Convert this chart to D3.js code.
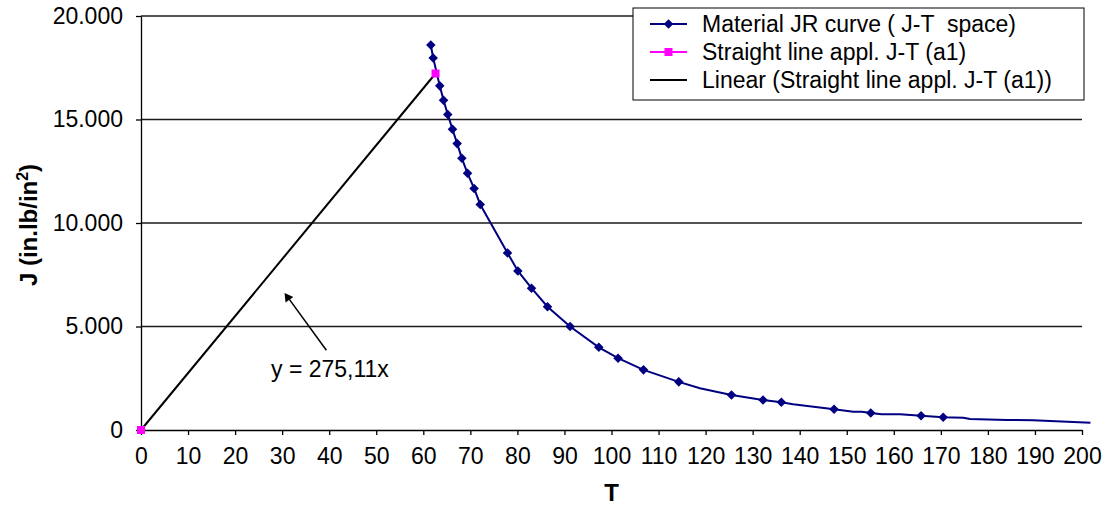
<!DOCTYPE html>
<html>
<head>
<meta charset="utf-8">
<script src="https://cdn.jsdelivr.net/npm/d3@7"></script>
<style>
  body { margin: 0; background: #fff; }
  text { font-family: Arial, "Liberation Sans", sans-serif; }
</style>
</head>
<body>
<div id="chart-area"></div>
<script>
const width = 1108;
const height = 508;

// Material JR curve in J-T space (line through every point, marker only where jrMarked = 1)
const jrT = [61.6, 62.1, 63.5, 64.3, 65.2, 66.2, 67.2, 68.2, 69.4, 70.8, 72.1, 77.9, 80.1, 83.0, 86.4,
  91.2, 97.3, 101.4, 106.8, 114.3, 118.8, 125.5, 132.2, 136.1, 138.6, 144.7, 147.3, 151.4, 153.2,
  155.1, 157.4, 161.3, 165.8, 170.5, 174.8, 176.2, 184.0, 189.6, 201.8];
const jrJ = [18600, 17970, 16625, 15930, 15240, 14530, 13835, 13125, 12400, 11670, 10895, 8555, 7685, 6850, 5955,
  5000, 3995, 3470, 2905, 2325, 2020, 1695, 1445, 1340, 1245, 1080, 1000, 885, 885,
  825, 760, 760, 690, 615, 595, 535, 485, 470, 355];
const jrMarked = [1, 1, 1, 1, 1, 1, 1, 1, 1, 1, 1, 1, 1, 1, 1,
  1, 1, 1, 1, 1, 0, 1, 1, 1, 0, 0, 1, 0, 0,
  1, 0, 0, 1, 1, 0, 0, 0, 0, 0];

// Straight line applied in J-T (a1)
const a1T = [0, 62.6];
const a1J = [0, 17222];
const slope = 275.11;

const xTicks = d3.range(0, 201, 10);
const yTicks = [0, 5000, 10000, 15000, 20000];

const fontSize = "23px";

const svg = d3.select("#chart-area")
  .append("svg")
  .attr("width", width)
  .attr("height", height);

// scales
const x = d3.scaleLinear().domain([0, 200]).range([141, 1082]);
const y = d3.scaleLinear().domain([0, 20000]).range([430, 16]);

const locale = d3.formatLocale({decimal: ",", thousands: ".", grouping: [3], currency: ["", ""]});
const fmtJ = locale.format(",");

// gridlines
svg.append("g")
  .selectAll("line")
  .data(yTicks.filter(d => d > 0))
  .join("line")
  .attr("x1", x(0))
  .attr("x2", x(200))
  .attr("y1", d => y(d))
  .attr("y2", d => y(d))
  .attr("stroke", "#1a1a1a")
  .attr("stroke-width", 1.4);

// axes
const xAxis = d3.axisBottom(x).tickValues(xTicks).tickSize(5).tickSizeOuter(0).tickPadding(12.5);
const yAxis = d3.axisLeft(y).tickValues(yTicks).tickFormat(fmtJ).tickSize(5).tickSizeOuter(0).tickPadding(13);

const xGroup = svg.append("g").attr("transform", `translate(0, ${y(0)})`).call(xAxis);
const yGroup = svg.append("g").attr("transform", `translate(${x(0)}, 0)`).call(yAxis);

[xGroup, yGroup].forEach(g => {
  g.selectAll("path, line").attr("stroke", "#000").attr("stroke-width", 1.3);
  g.selectAll("text")
    .attr("fill", "#000")
    .attr("font-size", fontSize)
    .attr("font-family", "Arial, 'Liberation Sans', sans-serif");
});

// axis titles
svg.append("text")
  .attr("x", x(100))
  .attr("y", 501)
  .attr("text-anchor", "middle")
  .attr("font-size", "24px")
  .attr("font-weight", "bold")
  .text("T");

const yLabel = svg.append("text")
  .attr("transform", "translate(37, 225) rotate(-90)")
  .attr("text-anchor", "middle")
  .attr("font-size", "24px")
  .attr("font-weight", "bold");
yLabel.append("tspan").text("J (in.lb/in");
yLabel.append("tspan").attr("font-size", "16px").attr("dy", "-9").text("2");
yLabel.append("tspan").attr("dy", "9").text(")");

// linear trendline of the a1 straight line
svg.append("line")
  .attr("x1", x(0))
  .attr("y1", y(0))
  .attr("x2", x(a1T[1]))
  .attr("y2", y(slope * a1T[1]))
  .attr("stroke", "#000")
  .attr("stroke-width", 2);

// JR curve
const jrData = jrT.map((t, i) => ({t: t, j: jrJ[i], marked: jrMarked[i]}));
const line = d3.line().x(d => x(d.t)).y(d => y(d.j));

svg.append("path")
  .datum(jrData)
  .attr("d", line)
  .attr("fill", "none")
  .attr("stroke", "#000080")
  .attr("stroke-width", 2);

const diamond = d3.symbol().type(d3.symbolDiamond2).size(58);

svg.append("g")
  .selectAll("path")
  .data(jrData.filter(d => d.marked))
  .join("path")
  .attr("transform", d => `translate(${x(d.t)}, ${y(d.j)})`)
  .attr("d", diamond)
  .attr("fill", "#000080");

// a1 markers
svg.append("g")
  .selectAll("rect")
  .data(a1T.map((t, i) => ({t: t, j: a1J[i]})))
  .join("rect")
  .attr("x", d => x(d.t) - 4)
  .attr("y", d => y(d.j) - 4)
  .attr("width", 8)
  .attr("height", 8)
  .attr("fill", "#ff00ff");

// equation annotation
svg.append("line")
  .attr("x1", x(39.4))
  .attr("y1", y(3850))
  .attr("x2", x(30.8))
  .attr("y2", y(6540))
  .attr("stroke", "#000")
  .attr("stroke-width", 1.5);

svg.append("path")
  .attr("d", d3.symbol().type(d3.symbolTriangle).size(40))
  .attr("transform", `translate(${x(31.2)}, ${y(6400)}) rotate(-36)`)
  .attr("fill", "#000");

svg.append("text")
  .attr("x", 271)
  .attr("y", 377)
  .attr("font-size", fontSize)
  .text("y = 275,11x");

// legend
const legend = svg.append("g");
legend.append("rect")
  .attr("x", 633)
  .attr("y", 8)
  .attr("width", 451)
  .attr("height", 92)
  .attr("fill", "#fff")
  .attr("stroke", "#000")
  .attr("stroke-width", 1);

const legendItems = ["Material JR curve ( J-T  space)", "Straight line appl. J-T (a1)", "Linear (Straight line appl. J-T (a1))"];
const legendColors = ["#000080", "#ff00ff", "#000"];

legendItems.forEach((name, i) => {
  const row = legend.append("g").attr("transform", `translate(0, ${24 + i * 28})`);
  row.append("line")
    .attr("x1", 650).attr("x2", 687)
    .attr("stroke", legendColors[i])
    .attr("stroke-width", 2);
  if (i === 0) {
    row.append("path").attr("transform", "translate(668.5, 0)").attr("d", diamond).attr("fill", legendColors[i]);
  } else if (i === 1) {
    row.append("rect").attr("x", 664.5).attr("y", -4).attr("width", 8).attr("height", 8).attr("fill", legendColors[i]);
  }
  row.append("text")
    .attr("x", 702)
    .attr("y", 8)
    .attr("font-size", fontSize)
    .style("white-space", "pre")
    .text(name);
});
</script>
</body>
</html>
